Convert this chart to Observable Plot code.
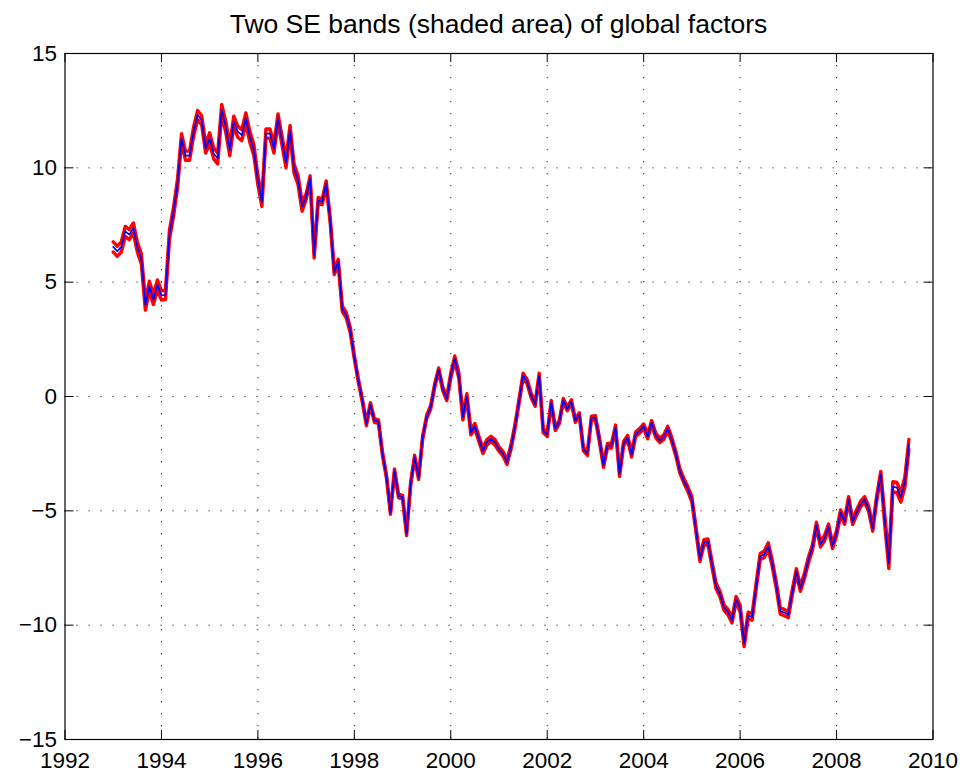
<!DOCTYPE html>
<html>
<head>
<meta charset="utf-8">
<script src="https://cdn.jsdelivr.net/npm/d3@7"></script>
<script src="https://cdn.jsdelivr.net/npm/@observablehq/plot@0.6"></script>
<style>
  body { margin: 0; background: #fff; }
  #wrap { position: relative; width: 967px; height: 778px; font-family: "Liberation Sans", Arial, Helvetica, sans-serif; }
  #title { position: absolute; left: 64.5px; width: 868px; top: 9px; text-align: center; font-size: 26.5px; line-height: 30px; color: #000; white-space: nowrap; }
  #chart { position: absolute; left: 0; top: 0; }
</style>
</head>
<body>
<div id="wrap"><div id="chart"></div><div id="title"></div></div>
<script>
const titleText = "Two SE bands (shaded area) of global factors";

// monthly observations starting January 1993
const startYear = 1993;
const factor = [
  6.54, 6.35, 6.54, 7.22, 7.08, 7.37, 6.54, 6.02, 4.0, 4.82, 4.24, 4.88,          // 1993
  4.42, 4.44, 7.08, 8.07, 9.31, 11.29, 10.53, 10.53, 11.58, 12.31, 12.09, 10.85,  // 1994
  11.29, 10.63, 10.41, 12.53, 11.8, 10.77, 12.02, 11.58, 11.43, 12.16, 11.36, 10.77, // 1995
  9.46, 8.51, 11.5, 11.5, 10.85, 12.16, 11.2, 10.2, 11.65, 9.97, 9.46, 8.3,       // 1996
  8.73, 9.53, 6.18, 8.58, 8.51, 9.31, 7.7, 5.45, 5.88, 3.84, 3.55, 2.89,          // 1997
  1.72, 0.7, -0.18, -1.2, -0.35, -1.05, -1.1, -2.5, -3.5, -5.07, -3.25, -4.35,    // 1998
  -4.4, -6.0, -3.85, -2.65, -3.55, -1.8, -0.9, -0.47, 0.48, 1.17, 0.34, -0.1,     // 1999
  0.92, 1.65, 0.92, -0.9, 0.0, -1.56, -1.3, -1.86, -2.37, -2.0, -1.86, -2.0,      // 2000
  -2.3, -2.5, -2.87, -2.2, -1.3, -0.2, 0.92, 0.65, 0.04, -0.33, 0.92, -1.49,      // 2001
  -1.67, -0.25, -1.41, -1.12, -0.17, -0.54, -0.22, -1.05, -0.79, -2.3, -2.5, -0.94, // 2002
  -0.94, -1.9, -3.0, -2.15, -2.15, -1.35, -3.4, -2.07, -1.8, -2.55, -1.65, -1.5,  // 2003
  -1.3, -1.75, -1.15, -1.7, -1.92, -1.78, -1.4, -1.9, -2.5, -3.25, -3.68, -4.05,  // 2004
  -4.5, -5.8, -7.1, -6.38, -6.35, -7.33, -8.28, -8.65, -9.23, -9.43, -9.78, -8.87, // 2005
  -9.27, -10.8, -9.57, -9.64, -8.28, -7.0, -6.9, -6.54, -7.3, -8.25, -9.38, -9.45, // 2006
  -9.55, -8.55, -7.65, -8.4, -7.85, -7.15, -6.6, -5.62, -6.46, -6.2, -5.7, -6.53, // 2007
  -5.98, -5.08, -5.47, -4.5, -5.48, -5.07, -4.7, -4.5, -4.93, -5.77, -4.45, -3.4, // 2008
  -5.4, -7.3, -3.95, -3.98, -4.4, -3.75, -2.1                                    // 2009
];

// half-width of the two-SE band, read per calendar year
const seYears = [1993, 1994, 1995, 1996, 1997, 1998, 1999, 2000, 2001, 2002, 2003, 2004, 2005, 2006, 2007, 2008, 2009];
const seHalf  = [0.22, 0.2, 0.24, 0.2, 0.12, 0.08, 0.08, 0.12, 0.1, 0.08, 0.1, 0.1, 0.12, 0.14, 0.12, 0.12, 0.22];

const xTicks = [1992, 1994, 1996, 1998, 2000, 2002, 2004, 2006, 2008, 2010];
const yTicks = [-15, -10, -5, 0, 5, 10, 15];

const rows = factor.map((v, i) => {
  const t = startYear + i / 12;
  const se = seHalf[seYears.indexOf(startYear + Math.floor(i / 12))];
  return {t, v, hi: v + se, lo: v - se};
});

const W = 967, H = 778;
const mL = 64.5, mR = 34.5, mT = 53, mB = 39;
const fw = W - mL - mR, fh = H - mT - mB;
const tickLen = 9;
const grid = {stroke: "#000", strokeWidth: 1, strokeDasharray: "1.2,10.8", strokeOpacity: 0.85};

const chart = Plot.plot({
  width: W, height: H,
  marginLeft: mL, marginRight: mR, marginTop: mT, marginBottom: mB,
  style: {fontFamily: "'Liberation Sans', Arial, Helvetica, sans-serif", fontSize: "22px", color: "#000", background: "#fff", overflow: "visible"},
  x: {domain: [1992, 2010]},
  y: {domain: [-15, 15]},
  marks: [
    Plot.ruleX(xTicks.slice(1, -1), grid),
    Plot.ruleY(yTicks.slice(1, -1), grid),
    Plot.line(rows, {x: "t", y: "hi", stroke: "#ff0000", strokeWidth: 3.4}),
    Plot.line(rows, {x: "t", y: "lo", stroke: "#ff0000", strokeWidth: 3.4}),
    Plot.line(rows, {x: "t", y: "v", stroke: "#0000ff", strokeWidth: 1.7}),
    Plot.tickX(xTicks, {x: d => d, stroke: "#000", insetTop: fh - tickLen}),
    Plot.tickX(xTicks, {x: d => d, stroke: "#000", insetBottom: fh - tickLen}),
    Plot.tickY(yTicks, {y: d => d, stroke: "#000", insetRight: fw - tickLen}),
    Plot.tickY(yTicks, {y: d => d, stroke: "#000", insetLeft: fw - tickLen}),
    Plot.frame({stroke: "#000", strokeWidth: 1.2}),
    Plot.axisX(xTicks, {tickSize: 0, tickPadding: 13, tickFormat: d => String(d), fontSize: 22.5, label: null}),
    Plot.axisY(yTicks, {tickSize: 0, tickPadding: 8, tickFormat: d3.format("d"), fontSize: 22.5, label: null})
  ]
});

document.getElementById("chart").appendChild(chart);
document.getElementById("title").textContent = titleText;
</script>
</body>
</html>
